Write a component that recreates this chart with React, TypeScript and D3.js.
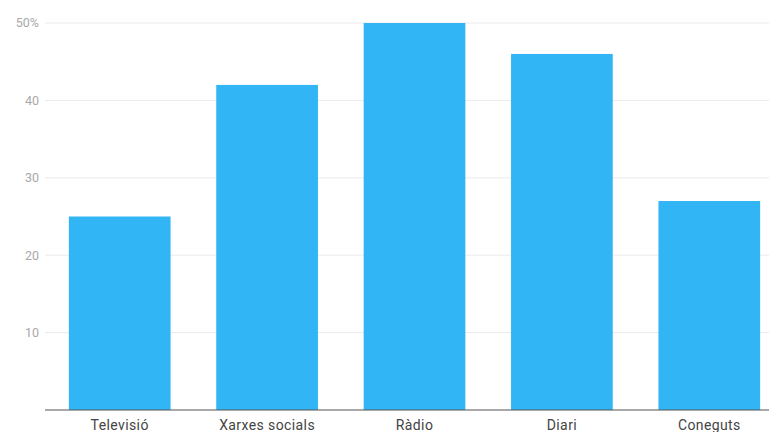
import React from "react";
import * as d3 from "d3";

const categories = ["Televisió", "Xarxes socials", "Ràdio", "Diari", "Coneguts"];
const values = [25, 42, 50, 46, 27];
const yTicks = [10, 20, 30, 40, 50];

const W = 769;
const H = 432;

export default function App() {
  const x = d3
    .scaleBand<string>()
    .domain(categories)
    .range([46, 783])
    .paddingInner(0.31)
    .paddingOuter(0.155);
  const y = d3.scaleLinear().domain([0, 50]).range([410, 23]);

  return (
    <svg
      width={W}
      height={H}
      style={{ position: "absolute", left: 0, top: 0, fontFamily: "Roboto, sans-serif" }}
    >
      <rect width={W} height={H} fill="#fff" />
      {yTicks.map((t) => (
        <g key={t}>
          <line x1={45} x2={W} y1={y(t)} y2={y(t)} stroke="#ebebeb" strokeWidth={1} />
          <text
            x={39}
            y={y(t)}
            dy="0.35em"
            textAnchor="end"
            fontSize={12.5}
            fill="#a8a8a8"
          >
            {t === 50 ? "50%" : t}
          </text>
        </g>
      ))}
      {categories.map((c, i) => (
        <rect
          key={c}
          x={x(c)}
          y={y(values[i])}
          width={x.bandwidth()}
          height={y(0) - y(values[i])}
          fill="#31b5f4"
        />
      ))}
      <line x1={45} x2={W} y1={y(0)} y2={y(0)} stroke="#555" strokeWidth={1.2} />
      {categories.map((c) => (
        <text
          key={c}
          x={(x(c) ?? 0) + x.bandwidth() / 2}
          y={430}
          textAnchor="middle"
          fontSize={14}
          letterSpacing={0.4}
          fill="#444"
        >
          {c}
        </text>
      ))}
    </svg>
  );
}
